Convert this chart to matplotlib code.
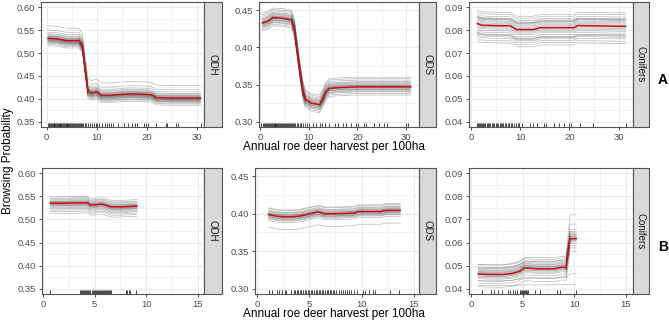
import numpy as np
import matplotlib
matplotlib.use("Agg")
import matplotlib.pyplot as plt

plt.rcParams["font.family"] = ["Liberation Sans", "DejaVu Sans"]

# ---- row A (top), x up to ~31 ----
x_odh_a = [0.3, 2, 4, 6.5, 7.2, 7.8, 8.3, 9, 10, 11, 13, 15, 17, 20, 21, 22, 25, 30.8]
red_odh_a = [0.532, 0.531, 0.527, 0.527, 0.515, 0.46, 0.418, 0.413, 0.416, 0.408,
             0.408, 0.410, 0.411, 0.410, 0.409, 0.403, 0.402, 0.402]
off_odh_a = [-0.016, -0.013, -0.011, -0.009, -0.008, -0.007, -0.006, -0.005, -0.004,
             -0.004, -0.003, -0.002, -0.002, -0.001, 0.0, 0.0, 0.001, 0.002, 0.003,
             0.004, 0.005, 0.006, 0.008, 0.010, 0.013, 0.018, 0.027]
rug_odh_a = [0.3, 0.5, 0.7, 0.9, 1.0, 1.2, 1.4, 1.5, 1.7, 1.9, 2.0, 2.2, 2.4, 2.6, 2.7,
             2.9, 3.1, 3.3, 3.4, 3.6, 3.8, 4.0, 4.1, 4.3, 4.5, 4.7, 4.9, 5.0, 5.2, 5.4,
             5.6, 5.8, 6.0, 6.2, 6.4, 6.6, 6.8, 7.0, 7.3, 7.6, 7.9, 8.3, 8.6, 9.0, 9.4,
             9.8, 10.1, 10.4, 11.1, 11.6, 12.1, 12.4, 12.9, 13.3, 14.3, 15.5, 16.3,
             17.0, 17.6, 18.0, 19.5, 19.9, 20.2, 21.8, 23.8, 24.1, 25.9, 26.2, 30.8]

x_ods_a = [0.4, 1.5, 2.6, 4.7, 6.4, 7.0, 7.6, 8.2, 8.8, 9.3, 10.5, 12.2, 12.8, 13.5,
           14.2, 16, 20, 31]
red_ods_a = [0.433, 0.435, 0.440, 0.439, 0.437, 0.425, 0.395, 0.365, 0.340, 0.330,
             0.325, 0.323, 0.330, 0.340, 0.345, 0.346, 0.347, 0.347]
off_ods_a = [-0.011, -0.009, -0.007, -0.006, -0.005, -0.004, -0.003, -0.003, -0.002,
             -0.001, -0.001, 0.0, 0.0, 0.001, 0.002, 0.002, 0.003, 0.004, 0.005,
             0.006, 0.007, 0.009, 0.011, 0.013]
rug_ods_a = [0.2, 0.5, 0.7, 0.9, 1.1, 1.3, 1.5, 1.7, 1.9, 2.1, 2.3, 2.5, 2.7, 2.9, 3.1,
             3.3, 3.5, 3.7, 3.9, 4.1, 4.3, 4.5, 4.7, 4.9, 5.1, 5.3, 5.5, 5.7, 5.9, 6.1,
             6.3, 6.5, 6.7, 6.9, 7.2, 7.5, 7.8, 8.1, 8.4, 8.8, 9.1, 9.5, 10.1, 10.8,
             11.5, 12.2, 12.7, 13.4, 14.2, 15.3, 16.0, 17.0, 17.7, 18.7, 19.7, 20.1,
             21.4, 21.8, 23.5, 24.4, 25.5, 26.2, 30.0, 30.5]

x_con_a = [1.3, 2.2, 5, 8, 9.3, 12.7, 14, 18, 20.9, 21.6, 26, 31.4]
red_con_a = [0.0828, 0.0821, 0.0819, 0.0818, 0.0802, 0.0802, 0.0810, 0.0810, 0.0810,
             0.0819, 0.0818, 0.0816]
off_con_a = [-0.0075, -0.0065, -0.0055, -0.0048, -0.0043, -0.004, -0.0037, -0.003,
             -0.0022, -0.0015, -0.001, -0.0005, 0.0, 0.0005, 0.001, 0.0015, 0.002,
             0.0025, 0.0028, 0.003, 0.0033, 0.004, 0.005, 0.0058]
rug_con_a = [1.2, 1.4, 1.6, 1.8, 2.0, 2.2, 2.5, 2.7, 2.9, 3.2, 3.4, 3.7, 3.9, 4.2, 4.4,
             4.7, 5.0, 5.2, 5.5, 5.8, 6.0, 6.3, 6.6, 6.9, 7.2, 7.5, 7.8, 8.1, 8.4, 8.8,
             9.1, 9.5, 9.8, 10.3, 12.0, 12.6, 13.4, 14.8, 15.3, 16.8, 17.8, 18.8, 19.9,
             20.3, 22.1, 24.8, 31.4]

# ---- row B (bottom), x up to ~15 ----
x_odh_b = [0.7, 2, 4.3, 4.6, 5.2, 5.7, 6.2, 6.6, 7.5, 8.5, 9.1]
red_odh_b = [0.535, 0.535, 0.536, 0.531, 0.532, 0.533, 0.530, 0.527, 0.527, 0.528, 0.529]
off_odh_b = [-0.022, -0.018, -0.015, -0.012, -0.010, -0.008, -0.006, -0.005, -0.004,
             -0.003, -0.002, -0.001, 0.0, 0.001, 0.002, 0.003, 0.004, 0.005, 0.007,
             0.009, 0.011, 0.014]
rug_odh_b = [0.7, 3.6, 3.7, 3.8, 3.9, 4.0, 4.1, 4.2, 4.3, 4.4, 4.5, 4.6, 4.7, 4.8, 4.9,
             5.0, 5.1, 5.2, 5.3, 5.4, 5.5, 5.6, 5.7, 5.8, 5.9, 6.0, 6.1, 6.2, 6.3, 6.4,
             6.5, 6.6, 8.0, 8.1, 8.3, 8.4, 9.0]

x_ods_b = [1.1, 1.8, 2.5, 3.3, 4.1, 5.1, 5.8, 6.5, 7.5, 9.3, 9.7, 11.9, 12.3, 13.7]
red_ods_b = [0.399, 0.397, 0.396, 0.396, 0.397, 0.400, 0.4025, 0.400, 0.400, 0.401,
             0.403, 0.403, 0.4045, 0.4045]
off_ods_b = [-0.017, -0.008, -0.006, -0.005, -0.004, -0.003, -0.003, -0.002, -0.001,
             -0.001, 0.0, 0.0, 0.001, 0.002, 0.002, 0.003, 0.004, 0.005, 0.006, 0.008,
             0.009]
rug_ods_b = [1.1, 1.4, 1.9, 2.1, 2.4, 2.7, 2.8, 3.2, 3.5, 3.65, 3.8, 3.95, 4.1, 4.25,
             4.4, 4.55, 4.7, 4.85, 5.0, 5.15, 5.3, 5.45, 5.6, 5.75, 5.9, 6.05, 6.2, 6.35,
             6.5, 6.65, 6.8, 6.95, 7.1, 7.25, 7.4, 7.6, 7.8, 8.0, 8.2, 8.4, 8.6, 8.8,
             9.0, 9.3, 9.6, 10.1, 10.3, 10.7, 11.1, 11.3, 12.7, 13.6]

x_con_b = [0.7, 1.5, 3.0, 4.0, 4.7, 5.2, 6.4, 8.1, 8.8, 9.2, 9.6, 10.2]
red_con_b = [0.0465, 0.0463, 0.0462, 0.0467, 0.0476, 0.0491, 0.0487, 0.0487, 0.0494,
             0.0492, 0.0617, 0.0617]
off_con_b = [-0.0055, -0.004, -0.003, -0.002, -0.0015, -0.001, -0.0008, -0.0005,
             -0.0002, 0.0, 0.0002, 0.0005, 0.0008, 0.001, 0.0013, 0.0017, 0.002,
             0.0025, 0.003, 0.004]
extra_con_b = [
    [0.0505, 0.0505, 0.0505, 0.0510, 0.0520, 0.0535, 0.0535, 0.0535, 0.0540, 0.0540, 0.0720, 0.0720],
    [0.0490, 0.0490, 0.0490, 0.0495, 0.0505, 0.0520, 0.0520, 0.0520, 0.0525, 0.0525, 0.0680, 0.0680],
    [0.0415, 0.0415, 0.0415, 0.0415, 0.0416, 0.0417, 0.0417, 0.0418, 0.0418, 0.0419, 0.0420, 0.0420],
    [0.0435, 0.0435, 0.0435, 0.0438, 0.0442, 0.0445, 0.0445, 0.0445, 0.0448, 0.0450, 0.0465, 0.0465],
]
rug_con_b = [1.1, 1.9, 2.2, 2.6, 3.0, 3.6, 3.8, 4.1, 4.3, 4.5, 4.7, 4.8, 4.9, 5.0, 5.1,
             5.2, 5.3, 5.4, 5.5, 6.2, 6.7, 8.3, 8.6, 10.2]

species = ["ODH", "ODS", "Conifers"]

W, H = 669, 322
fig = plt.figure(figsize=(W / 100, H / 100), dpi=100)

border = "#555555"
grid_c = "#EBEBEB"


def px_box(x0, y0, x1, y1):
    return [x0 / W, 1 - y1 / H, (x1 - x0) / W, (y1 - y0) / H]


def panel(box, strip_box, label, x, red, offs, rug, xlim, ylim, xt, xm, yt, ym, extras=()):
    ax = fig.add_axes(px_box(*box))
    x = np.asarray(x)
    red = np.asarray(red)
    for o in offs:
        ax.plot(x, red + o, color="#333333", alpha=0.33, lw=0.5, zorder=2)
    for e in extras:
        ax.plot(x, e, color="#333333", alpha=0.33, lw=0.5, zorder=2)
    ax.plot(x, red, color="#CC1111", lw=1.1, zorder=4)
    ax.vlines(rug, 0, 0.03, transform=ax.get_xaxis_transform(), color="black", lw=0.5)
    ax.set_xlim(*xlim)
    ax.set_ylim(*ylim)
    ax.set_xticks(xt)
    ax.set_xticks(xm, minor=True)
    ax.set_yticks(yt)
    ax.set_yticks(ym, minor=True)
    ax.set_yticklabels([f"{v:.2f}" for v in yt])
    ax.set_xticklabels([str(v) for v in xt])
    ax.grid(which="major", color=grid_c, lw=0.8, zorder=0)
    ax.grid(which="minor", color=grid_c, lw=0.4, zorder=0)
    ax.set_axisbelow(True)
    ax.tick_params(which="major", length=2.5, width=0.6, color="#333333", pad=1.5,
                   labelsize=6.8, labelcolor="#4D4D4D")
    ax.tick_params(which="minor", length=0)
    for s in ax.spines.values():
        s.set_color(border)
        s.set_linewidth(0.8)

    sx = fig.add_axes(px_box(*strip_box))
    sx.set_facecolor("#D9D9D9")
    sx.set_xticks([])
    sx.set_yticks([])
    for s in sx.spines.values():
        s.set_color(border)
        s.set_linewidth(0.8)
    sx.text(0.5, 0.5, label, rotation=-90, ha="center", va="center", fontsize=7,
            color="#1A1A1A", transform=sx.transAxes)
    return ax


yl = [(0.339, 0.611), (0.293, 0.461), (0.0378, 0.0922)]
yt = [[0.35, 0.40, 0.45, 0.50, 0.55, 0.60], [0.30, 0.35, 0.40, 0.45],
      [0.04, 0.05, 0.06, 0.07, 0.08, 0.09]]
ym = [[0.375, 0.425, 0.475, 0.525, 0.575], [0.325, 0.375, 0.425],
      [0.045, 0.055, 0.065, 0.075, 0.085]]

top = [(x_odh_a, red_odh_a, off_odh_a, rug_odh_a, (-1.1, 31.5), ()),
       (x_ods_a, red_ods_a, off_ods_a, rug_ods_a, (-0.3, 32.7), ()),
       (x_con_a, red_con_a, off_con_a, rug_con_a, (-0.4, 32.9), ())]
bot = [(x_odh_b, red_odh_b, off_odh_b, rug_odh_b, (-0.1, 15.6), ()),
       (x_ods_b, red_ods_b, off_ods_b, rug_ods_b, (-0.2, 15.5), ()),
       (x_con_b, red_con_b, off_con_b, rug_con_b, (-0.2, 15.7), extra_con_b)]

cols_top = [(41, 204, 222), (259, 419, 436), (469, 633, 649)]
cols_bot = [(42, 204, 222), (255, 419, 436), (469, 633, 649)]

for i, (x, r, o, rg, xl, ex) in enumerate(top):
    l, rr, se = cols_top[i]
    panel((l, 2, rr, 127), (rr, 2, se, 127), species[i], x, r, o, rg, xl, yl[i],
          [0, 10, 20, 30], [5, 15, 25], yt[i], ym[i], ex)

for i, (x, r, o, rg, xl, ex) in enumerate(bot):
    l, rr, se = cols_bot[i]
    panel((l, 168, rr, 294), (rr, 168, se, 294), species[i], x, r, o, rg, xl, yl[i],
          [0, 5, 10, 15], [2.5, 7.5, 12.5], yt[i], ym[i], ex)

fig.text(334 / W, 1 - 147 / H, "Annual roe deer harvest per 100ha", ha="center",
         va="center", fontsize=8.5, color="black")
fig.text(334 / W, 1 - 314 / H, "Annual roe deer harvest per 100ha", ha="center",
         va="center", fontsize=8.5, color="black")
fig.text(8 / W, 1 - 161 / H, "Browsing Probability", rotation=90, ha="center",
         va="center", fontsize=8.5, color="black")
fig.text(663 / W, 1 - 80 / H, "A", ha="center", va="center", fontsize=10,
         fontweight="bold")
fig.text(663 / W, 1 - 247 / H, "B", ha="center", va="center", fontsize=10,
         fontweight="bold")

fig.savefig("out.png", dpi=100)
